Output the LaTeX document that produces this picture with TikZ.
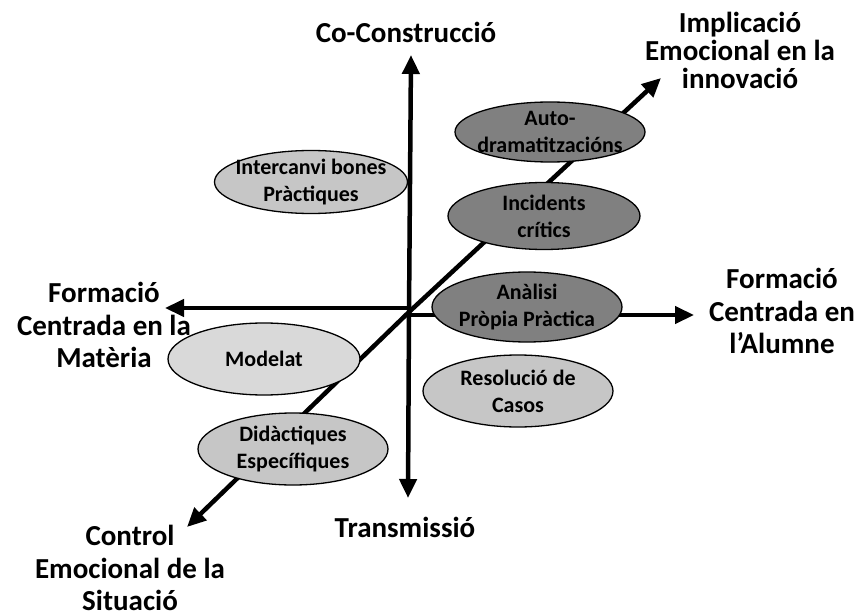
\documentclass[tikz,border=0pt]{standalone}
\usepackage{fontspec}
\setmainfont{Carlito}
\usetikzlibrary{arrows.meta,shapes.geometric}
\definecolor{darkfill}{HTML}{808080}
\definecolor{lightfill}{HTML}{C6C6C6}
\definecolor{palefill}{HTML}{D9D9D9}
\begin{document}
\begin{tikzpicture}[x=1pt,y=-1pt,
  axis/.style={line width=4.5pt,-{Triangle[length=19pt,width=17pt]}},
  bubble/.style={ellipse,draw=black,line width=1.3pt,inner sep=0pt},
  btext/.style={align=center,inner sep=0pt,font=\fontsize{22}{27}\selectfont\bfseries},
  axlabel/.style={align=center,inner sep=0pt,font=\fontsize{29}{32.5}\selectfont\bfseries}]
\useasboundingbox (0,0) rectangle (868,615);
% axis coordinates
\coordinate (c) at (409,312);
\coordinate (up) at (411,55);
\coordinate (down) at (408,498);
\coordinate (left) at (165,308);
\coordinate (right) at (694,315);
\coordinate (ne) at (661,78);
\coordinate (sw) at (187,527);
\coordinate (cl) at (409,308);
\coordinate (cr) at (409,315);
% axes
\draw[axis] (c) -- (up);
\draw[axis] (c) -- (down);
\draw[axis] (cl) -- (left);
\draw[axis] (cr) -- (right);
\draw[axis] (c) -- (ne);
\draw[axis] (c) -- (sw);
% bubbles
\node[bubble,fill=lightfill,minimum width=193pt,minimum height=63pt] (inter) at (311,182) {};
\node[btext] (inter-t) at (inter.center) {Intercanvi bones\\Pràctiques};
\node[bubble,fill=darkfill,minimum width=190pt,minimum height=60pt] (auto) at (550,132) {};
\node[btext] (auto-t) at (auto.center) {Auto-\\dramatitzacións};
\node[bubble,fill=darkfill,minimum width=192pt,minimum height=67pt] (inc) at (544,216) {};
\node[btext] (inc-t) at (inc.center) {Incidents\\crítics};
\node[bubble,fill=darkfill,minimum width=190pt,minimum height=70pt] (anal) at (527,307) {};
\node[btext] (anal-t) at (anal.center) {Anàlisi\\Pròpia Pràctica};
\node[bubble,fill=lightfill,minimum width=190pt,minimum height=72pt] (res) at (518,391) {};
\node[btext] (res-t) at (res.center) {Resolució de\\Casos};
\node[bubble,fill=palefill,minimum width=192pt,minimum height=72pt] (mod) at (264,359) {};
\node[btext] (mod-t) at (mod.center) {Modelat};
\node[bubble,fill=lightfill,minimum width=190pt,minimum height=72pt] (did) at (293,449) {};
\node[btext] (did-t) at (did.center) {Didàctiques\\Específiques};
% axis labels
\node[axlabel] (tup) at (406,32) {Co-Construcció};
\node[axlabel] (tdown) at (405,527) {Transmissió};
\node[axlabel] (tleft) at (104,325) {Formació\\Centrada en la\\Matèria};
\node[axlabel] (tright) at (782,311) {Formació\\Centrada en\\l’Alumne};
\node[axlabel,font=\fontsize{29}{28}\selectfont\bfseries] (tne) at (740,50) {Implicació\\Emocional en la\\innovació};
\node[axlabel] (tsw) at (130,568) {Control\\Emocional de la\\Situació};
\end{tikzpicture}
\end{document}
